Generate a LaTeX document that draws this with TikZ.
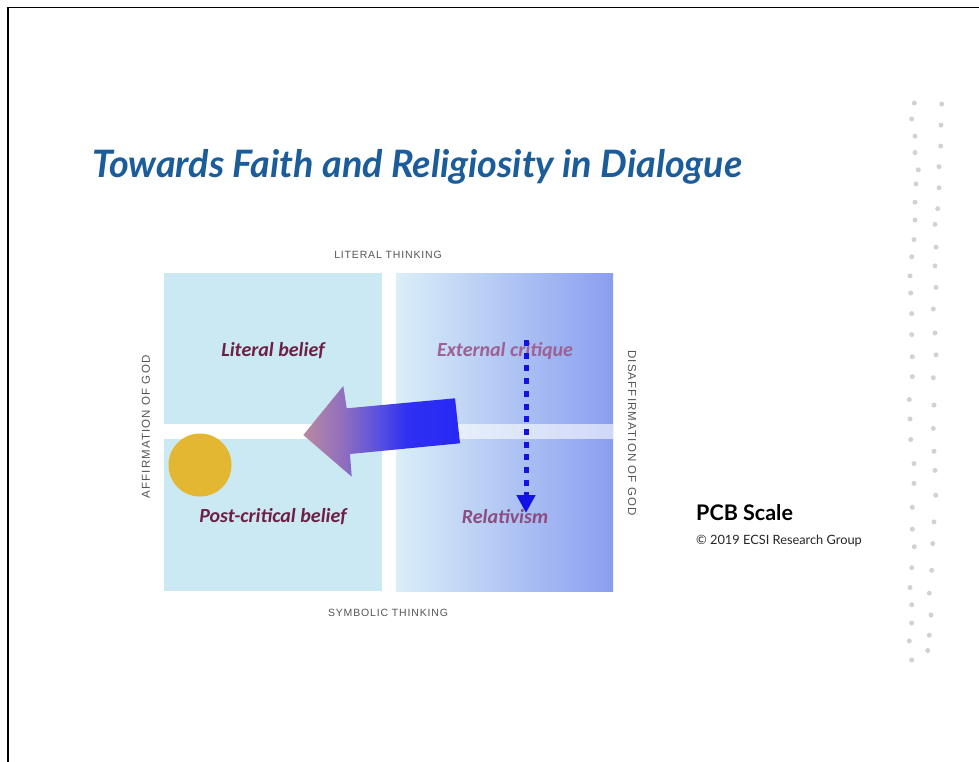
\documentclass[tikz,border=0pt]{standalone}
\usepackage{fontspec}
\setmainfont{Liberation Sans}
\newfontfamily\titlefont{Lato}
\newfontfamily\capsfont[LetterSpace=8]{Liberation Sans}
\newfontfamily\vcapsfont[LetterSpace=10]{Liberation Sans}
\newfontfamily\quadfont{Carlito}
\newfontfamily\latofont{Lato}
\usetikzlibrary{arrows.meta}
\definecolor{titleblue}{HTML}{1B5C9A}
\definecolor{quadcyan}{HTML}{CBE9F2}
\definecolor{rightA}{HTML}{DAEFF8}
\definecolor{rightB}{HTML}{C6D8F5}
\definecolor{rightC}{HTML}{8A9EF0}
\definecolor{maroon}{HTML}{6E1F45}
\definecolor{mauvetext}{HTML}{9D6193}
\definecolor{mauvetextB}{HTML}{8C4C80}
\definecolor{capsgray}{HTML}{555555}
\definecolor{sunyellow}{HTML}{E4B733}
\definecolor{dotgray}{HTML}{D2D2D2}
\definecolor{dashblue}{HTML}{1212E6}
\definecolor{arA}{HTML}{B98AA0}
\definecolor{arB}{HTML}{8F6EC0}
\definecolor{arC}{HTML}{5A50E0}
\definecolor{arD}{HTML}{2F30F2}
\definecolor{arE}{HTML}{2828F5}
\pgfdeclarehorizontalshading{bigarrowshade}{100bp}{color(0bp)=(arA); color(25bp)=(arA); color(38bp)=(arB); color(49bp)=(arC); color(58bp)=(arD); color(75bp)=(arE); color(100bp)=(arE)}
\tikzset{
  capslabel/.style={font=\capsfont\fontsize{10.5}{12}\selectfont, text=capsgray, inner sep=0pt},
  vcapslabel/.style={font=\vcapsfont\fontsize{11.5}{13}\selectfont, text=capsgray, inner sep=0pt},
  quadlabel/.style={font=\quadfont\bfseries\itshape\fontsize{20}{24}\selectfont, inner sep=0pt, anchor=base},
  dotstyle/.style={fill=dotgray, draw=none}
}
\begin{document}
\begin{tikzpicture}[x=1pt,y=-1pt]
\useasboundingbox (0,0) rectangle (979,762);
\fill[white] (0,0) rectangle (979,762);
% frame
\draw[line width=1.5pt] (8,762) -- (8,7.5) -- (979,7.5);
% title
\node[anchor=base west, inner sep=0pt, text=titleblue, font=\titlefont\bfseries\itshape\fontsize{37.8}{44}\selectfont] (title) at (92,178) {Towards Faith and Religiosity in Dialogue};
% quadrants
\fill[quadcyan] (164,273) rectangle (382,424);
\fill[quadcyan] (164,439) rectangle (382,591);
\shade[left color=rightA, middle color=rightB, right color=rightC] (396,273) rectangle (613,591);
\fill[white, opacity=0.6] (396,424) rectangle (613,439);
% axis labels
\node[capslabel, anchor=base] (lit) at (388,258) {LITERAL THINKING};
\node[capslabel, anchor=base] (sym) at (388,616) {SYMBOLIC THINKING};
\node[vcapslabel, rotate=90] (aff) at (146,427) {AFFIRMATION OF GOD};
\node[vcapslabel, rotate=-90] (dis) at (632,433) {DISAFFIRMATION OF GOD};
% sun
\fill[sunyellow] (200,465) circle (31.5);
% big arrow
\shade[shading=bigarrowshade] (303.3,435) -- (343.3,386) -- (346.7,408.3) -- (455,398.3) -- (460,443.3) -- (350,454) -- (351.7,476.7) -- cycle;
% quadrant labels
\node[quadlabel, text=maroon] (litb) at (273,356) {Literal belief};
\node[quadlabel, text=mauvetext] (ext) at (505,356) {External critique};
\node[quadlabel, text=maroon] (post) at (273,522) {Post-critical belief};
\node[quadlabel, text=mauvetextB] (rel) at (505,523) {Relativism};
% dotted arrow
\coordinate (dtop) at (526,340);
\coordinate (dbot) at (526,513);
\draw[dashblue, line width=5pt, dash pattern=on 6pt off 6.7pt, -{Triangle[length=18pt,width=18pt]}] (dtop) -- (dbot);
% PCB
\node[anchor=base west, inner sep=0pt, font=\latofont\bfseries\fontsize{21.5}{25}\selectfont] (pcb) at (696,520) {PCB Scale};
\node[anchor=base west, inner sep=0pt, text=black!85, font=\latofont\fontsize{12.8}{15}\selectfont] (copy) at (696,544) {© 2019 ECSI Research Group};
% dots
\foreach \x/\y in {914.3/103,911.7/119,915/136.2,915/152.6,918.3/169.8,916/183.9,915/202.2,915/220.1,914/239.6,911.7/256.8,910/275.8,910.7/293,911.7/313.6,911.7/334.6,912.3/356.7,912.3/376.6,909.3/399.5,910/418.9,910.7/439.5,914/463.6,914/483.4,912.3/507.4,912.3/529.2,914.3/546.7,911.7/567.7,910/587.6,911.7/604.7,911.7/623,909.3/641,911.7/660,
941.7/104.1,941/125.1,940.7/146.1,939/166.7,939/187.7,937.7/208.7,935/224.3,936/247.2,935/265.9,936/287.3,933.3/309,935/333,936/354.8,933.3/377.7,934/405.1,933.3/428.4,934/451.3,935/470.4,935.7/495.2,934/521.9,932.7/543.6,931.7/570.3,929.3/593.2,931/615,929.3/635.2,927.7/650.5}
  \fill[dotstyle] (\x,\y) circle (2.5);
\end{tikzpicture}
\end{document}
